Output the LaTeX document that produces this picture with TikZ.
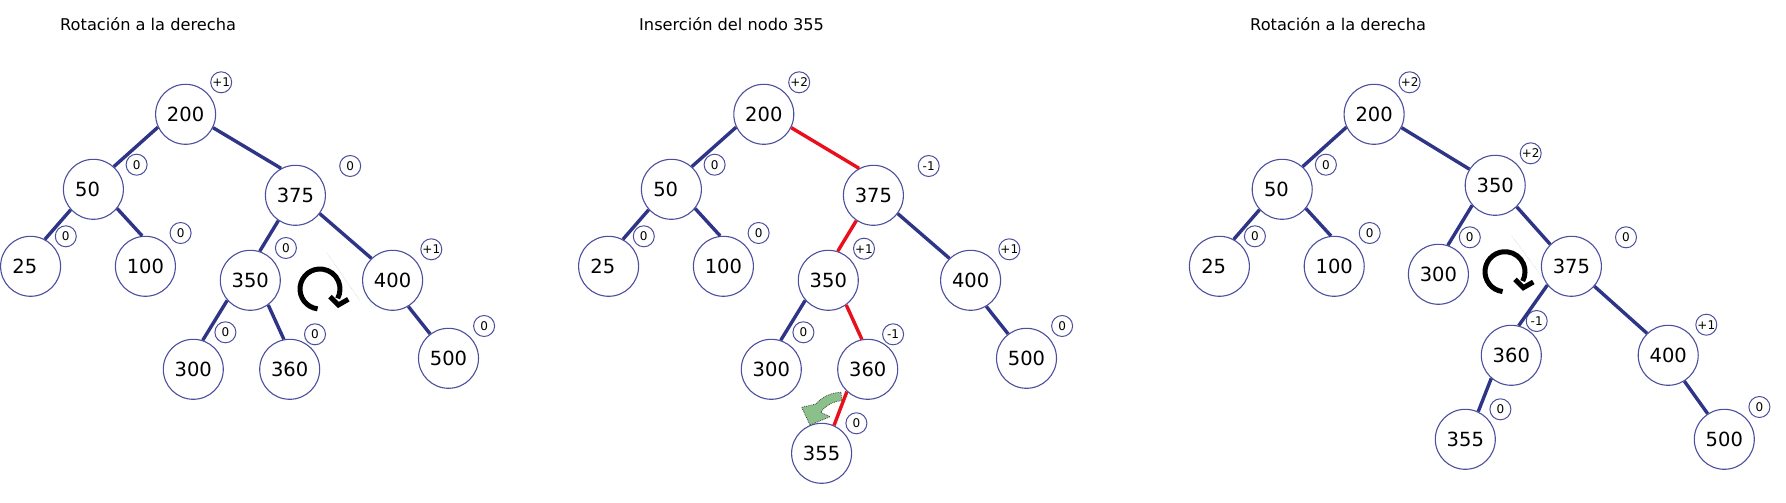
\documentclass[tikz,border=0pt]{standalone}
\usepackage{fontspec}
\setmainfont{DejaVu Sans}
\definecolor{edgeblue}{HTML}{2E3587}
\definecolor{ringblue}{HTML}{4C4F9E}
\definecolor{edgered}{HTML}{EA0F1C}
\definecolor{arrowgreen}{HTML}{8CC08A}
\tikzset{
  treenode/.style={circle,draw=ringblue,fill=white,line width=1.1pt,minimum size=60pt,inner sep=0pt,font=\fontsize{19.5pt}{20pt}\selectfont},
  badge/.style={circle,draw=ringblue,fill=white,line width=1pt,minimum size=21pt,inner sep=0pt,font=\fontsize{12pt}{13pt}\selectfont},
  titletext/.style={anchor=base west,inner sep=0pt,font=\fontsize{16.2pt}{17pt}\selectfont},
  blueedge/.style={draw=edgeblue,line width=3.4pt},
  rededge/.style={draw=edgered,line width=3.4pt},
  rotarrow/.pic={
    \draw[black,line width=5pt] (0,0) ++(263:20pt) arc[start angle=263,end angle=-28,radius=20pt];
    \draw[black,line width=5pt,line join=miter] (10,7.7) -- (18.3,16) -- (28.3,10.3);
  }
}
\newcommand{\twodig}[1]{#1\kern11.5pt}
\begin{document}
\begin{tikzpicture}[x=1pt,y=-1pt]
\useasboundingbox (0,0) rectangle (1786,503);
% ---------- panel 1
\node[titletext] (t1) at (60,31) {Rotación a la derecha};
\node[treenode] (a200) at (185.6,114.3) {200};
\node[treenode] (a50) at (93.4,189.3) {\twodig{50}};
\node[treenode] (a375) at (295.4,195.3) {375};
\node[treenode] (a25) at (30.6,266.3) {\twodig{25}};
\node[treenode] (a100) at (145.4,266.3) {100};
\node[treenode] (a350) at (250.3,280.3) {350};
\node[treenode] (a400) at (392.6,280.3) {400};
\node[treenode] (a300) at (193.3,369.3) {300};
\node[treenode] (a360) at (289.7,369.3) {360};
\node[treenode] (a500) at (448.5,358.3) {500};
\node[badge] (ab200) at (221.2,82.3) {+1};
\node[badge] (ab50) at (136.6,164.7) {0};
\node[badge] (ab375) at (350.2,166) {0};
\node[badge] (ab25) at (65.8,236.3) {0};
\node[badge] (ab100) at (180.6,233) {0};
\node[badge] (ab350) at (285.9,248) {0};
\node[badge] (ab400) at (431.3,249.3) {+1};
\node[badge] (ab300) at (225.4,332.3) {0};
\node[badge] (ab360) at (315,334.3) {0};
\node[badge] (ab500) at (484.1,326) {0};
\draw[blueedge] (a200.205) -- (a50.48);
\draw[blueedge] (a200.334) -- (a375.118);
\draw[blueedge] (a50.222) -- (a25.62);
\draw[blueedge] (a50.321) -- (a100.96);
\draw[blueedge] (a375.236) -- (a350.72);
\draw[blueedge] (a375.323) -- (a400.134);
\draw[blueedge] (a350.221) -- (a300.72);
\draw[blueedge] (a350.306) -- (a360.101);
\draw[blueedge] (a400.301) -- (a500.127);
\draw[gray!60,line width=0.4pt,densely dotted] (326.7,252.7) -- (360,300.7);
\pic at (320,289) {rotarrow};
% ---------- panel 2
\node[titletext] (t2) at (639,31) {Inserción del nodo 355};
\node[treenode] (b200) at (763.8,114.3) {200};
\node[treenode] (b50) at (671.4,189.3) {\twodig{50}};
\node[treenode] (b375) at (873.4,195.3) {375};
\node[treenode] (b25) at (608.6,266.3) {\twodig{25}};
\node[treenode] (b100) at (723.4,266.3) {100};
\node[treenode] (b350) at (828.3,280.3) {350};
\node[treenode] (b400) at (970.6,280.3) {400};
\node[treenode] (b300) at (771.3,369.3) {300};
\node[treenode] (b360) at (867.7,369.3) {360};
\node[treenode] (b500) at (1026.5,358.3) {500};
\node[treenode] (b355) at (821.6,453.3) {355};
\node[badge] (bb200) at (799.2,82.3) {+2};
\node[badge] (bb50) at (714.6,164.7) {0};
\node[badge] (bb375) at (928.7,166) {-1};
\node[badge] (bb25) at (643.8,236.3) {0};
\node[badge] (bb100) at (758.6,233) {0};
\node[badge] (bb350) at (864,248.7) {+1};
\node[badge] (bb400) at (1009.3,249.3) {+1};
\node[badge] (bb300) at (803.4,332.3) {0};
\node[badge] (bb360) at (893.1,334.3) {-1};
\node[badge] (bb500) at (1062.1,326) {0};
\node[badge] (bb355) at (856.4,423.3) {0};
\draw[blueedge] (b200.205) -- (b50.48);
\draw[rededge] (b200.334) -- (b375.118);
\draw[blueedge] (b50.222) -- (b25.62);
\draw[blueedge] (b50.321) -- (b100.96);
\draw[rededge] (b375.236) -- (b350.72);
\draw[blueedge] (b375.323) -- (b400.134);
\draw[blueedge] (b350.221) -- (b300.72);
\draw[rededge] (b350.306) -- (b360.101);
\draw[blueedge] (b400.301) -- (b500.127);
\draw[rededge] (b360.227) -- (b355.66);
\draw[fill=arrowgreen,draw=black!75,line width=0.8pt,densely dotted]
  (841,392.3) .. controls (831,392.5) and (822,397) .. (816,404)
  -- (801.7,407.3) -- (810,425) -- (830,416.7) -- (820.7,412.3)
  .. controls (826,405) and (833,401.5) .. (841.7,400.7) -- cycle;
% ---------- panel 3
\node[titletext] (t3) at (1250,31) {Rotación a la derecha};
\node[treenode] (c200) at (1374.1,114.3) {200};
\node[treenode] (c50) at (1282.2,189.3) {\twodig{50}};
\node[treenode] (c25) at (1219.4,266.3) {\twodig{25}};
\node[treenode] (c100) at (1334.2,266.3) {100};
\node[treenode] (c350) at (1495.2,185.3) {350};
\node[treenode] (c300) at (1438.4,274.3) {300};
\node[treenode] (c375) at (1571.4,266.3) {375};
\node[treenode] (c360) at (1511.3,355.3) {360};
\node[treenode] (c400) at (1668.2,355.3) {400};
\node[treenode] (c355) at (1465.3,439.3) {355};
\node[treenode] (c500) at (1724.3,439.3) {500};
\node[badge] (cb200) at (1409.6,82.3) {+2};
\node[badge] (cb50) at (1325.9,164.7) {0};
\node[badge] (cb25) at (1254.9,236.3) {0};
\node[badge] (cb100) at (1369.7,233) {0};
\node[badge] (cb350) at (1530.7,153.3) {+2};
\node[badge] (cb300) at (1469.8,237.3) {0};
\node[badge] (cb375) at (1626,237.3) {0};
\node[badge] (cb360) at (1536.7,321) {-1};
\node[badge] (cb400) at (1706.3,324.7) {+1};
\node[badge] (cb355) at (1500.4,409.3) {0};
\node[badge] (cb500) at (1759.4,407) {0};
\draw[blueedge] (c200.205) -- (c50.48);
\draw[blueedge] (c200.334) -- (c350.148);
\draw[blueedge] (c50.222) -- (c25.62);
\draw[blueedge] (c50.321) -- (c100.96);
\draw[blueedge] (c350.221) -- (c300.72);
\draw[blueedge] (c350.315) -- (c375.134);
\draw[blueedge] (c375.218) -- (c360.76);
\draw[blueedge] (c375.319) -- (c400.134);
\draw[blueedge] (c360.229) -- (c355.65);
\draw[blueedge] (c400.302) -- (c500.123);
\draw[gray!60,line width=0.4pt,densely dotted] (1511.7,235.7) -- (1546.7,283.3);
\pic at (1505,271.7) {rotarrow};
\end{tikzpicture}
\end{document}
